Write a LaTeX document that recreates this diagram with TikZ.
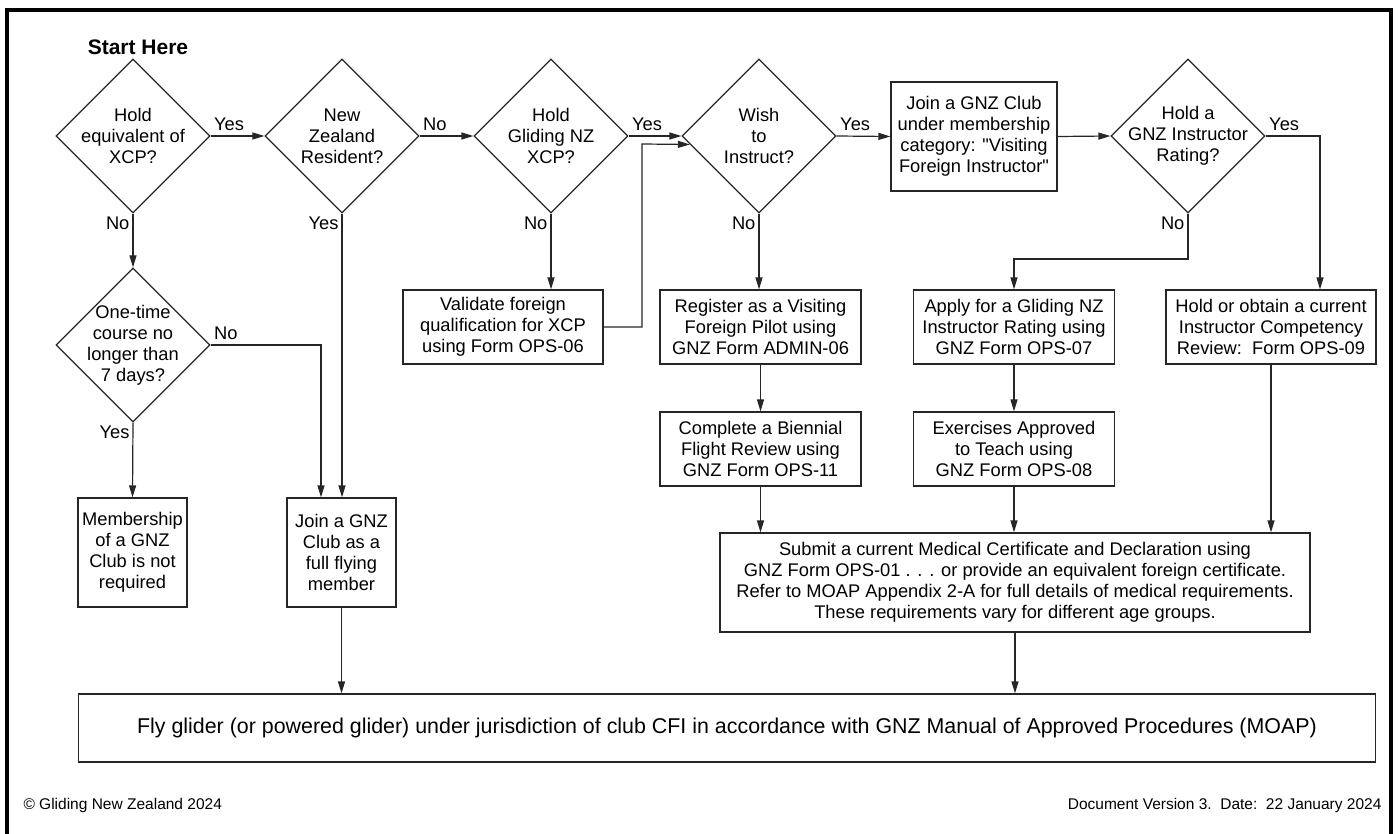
\documentclass[tikz,border=0pt]{standalone}
\usepackage{fontspec}
\setmainfont{Liberation Sans}
\usetikzlibrary{arrows.meta,shapes.geometric,positioning}

\begin{document}
\begin{tikzpicture}[x=1pt, y=-1pt,
    every node/.style={font=\fontsize{18.3}{21}\selectfont},
    decision/.style={diamond, draw=black!85, line width=1.2pt, minimum width=154pt, minimum height=154pt, inner sep=-8pt, align=center},
    stepbox/.style={rectangle, draw=black!85, line width=1.2pt, inner sep=0pt, align=center},
    flow/.style={line width=1.2pt, draw=black!85, -{Triangle[length=12pt,width=7pt]}},
    answer/.style={inner sep=3pt},
    yesright/.style={answer, pos=0, anchor=south west, yshift=2pt},
    nobelow/.style={answer, pos=0, anchor=north east},
    frame/.style={line width=4pt, black},
  ]

    \useasboundingbox (0,0) rectangle (1398,834);

    %draw the frame
    \draw[frame] (7,840) -- (7,10) -- (1391,10) -- (1391,840);

    \node[font=\bfseries\fontsize{21}{24}\selectfont] (start) at (138,47) {Start Here};

    %the decisions
    \node[decision] (xcp) at (133,136) {Hold\\equivalent of\\XCP?};
    \node[decision] (resident) at (342,136) {New\\Zealand\\Resident?};
    \node[decision] (gnzxcp) at (551,136) {Hold\\Gliding NZ\\XCP?};
    \node[decision] (instruct) at (759,136) {Wish\\to\\Instruct?};
    \node[decision] (rating) at (1188,136) {Hold a\\GNZ Instructor\\Rating?};
    \node[decision] (course) at (133,345) {One-time\\course no\\longer than\\7 days?};

    %the steps
    \node[stepbox, minimum width=166pt, minimum height=109pt] (visiting) at (974,136.5)
        {Join a GNZ Club\\under membership\\category: \textquotedbl Visiting\\Foreign Instructor\textquotedbl};
    \node[stepbox, minimum width=109pt, minimum height=109pt] (notreq) at (132.5,552.5)
        {Membership\\of a GNZ\\Club is not\\required};
    \node[stepbox, minimum width=109pt, minimum height=109pt] (fullmember) at (341.5,552.5)
        {Join a GNZ\\Club as a\\full flying\\member};
    \node[stepbox, minimum width=200pt, minimum height=74pt] (validate) at (503,327)
        {Validate foreign\\qualification for XCP\\using Form OPS-06};
    \node[stepbox, minimum width=201pt, minimum height=74pt] (register) at (760.5,327)
        {Register as a Visiting\\Foreign Pilot using\\GNZ Form ADMIN-06};
    \node[stepbox, minimum width=201pt, minimum height=74pt] (apply) at (1014,327)
        {Apply for a Gliding NZ\\Instructor Rating using\\GNZ Form OPS-07};
    \node[stepbox, minimum width=210pt, minimum height=74pt] (icr) at (1271,327)
        {Hold or obtain a current\\Instructor Competency\\Review:\ \ Form OPS-09};
    \node[stepbox, minimum width=201pt, minimum height=74pt] (bfr) at (760.5,449)
        {Complete a Biennial\\Flight Review using\\GNZ Form OPS-11};
    \node[stepbox, minimum width=201pt, minimum height=74pt] (exercises) at (1014,449)
        {Exercises Approved\\to Teach using\\GNZ Form OPS-08};
    \node[stepbox, minimum width=590pt, minimum height=99pt] (medical) at (1015,582.5)
        {Submit a current Medical Certificate and Declaration using\\GNZ Form OPS-01 . . . or provide an equivalent foreign certificate.\\Refer to MOAP Appendix 2-A for full details of medical requirements.\\These requirements vary for different age groups.};
    \node[stepbox, minimum width=1297pt, minimum height=68pt, font=\fontsize{21.4}{24}\selectfont] (fly) at (727,728)
        {Fly glider (or powered glider) under jurisdiction of club CFI in accordance with GNZ Manual of Approved Procedures (MOAP)};

    %bends
    \coordinate (k2) at (321,345);
    \coordinate (k3) at (642,144);
    \coordinate (k5) at (1320,136);
    \coordinate (k6) at (1188,259);

    %top row
    \draw[flow] (xcp.east) -- node[yesright] {Yes} (resident.west);
    \draw[flow] (resident.east) -- node[yesright] {No} (gnzxcp.west);
    \draw[flow] (gnzxcp.east) -- node[yesright] {Yes} (instruct.west);
    \draw[flow] (instruct.east) -- node[yesright] {Yes} (visiting.west);
    \draw[flow] (visiting.east) -- (rating.west);
    \draw[flow] (rating.east) -- node[yesright] {Yes} (k5) -- (k5 |- icr.north);
    \draw[flow] (rating.south) -- node[nobelow] {No} (k6) -| (apply.north);

    %down from the decisions
    \draw[flow] (xcp.south) -- node[nobelow] {No} (course.north);
    \draw[flow] (resident.south) -- node[nobelow] {Yes} (resident.south |- fullmember.north);
    \draw[flow] (gnzxcp.south) -- node[nobelow] {No} (gnzxcp.south |- validate.north);
    \draw[flow] (instruct.south) -- node[nobelow] {No} (instruct.south |- register.north);
    \draw[flow] (course.south) -- node[nobelow] {Yes} (notreq.north);
    \draw[flow] (course.east) -- node[yesright] {No} (k2) -- (k2 |- fullmember.north);
    \draw[flow] (validate.east) -| (k3) -- (instruct.187);

    %down to the medical and to flying
    \draw[flow] (register) -- (bfr);
    \draw[flow] (apply) -- (exercises);
    \draw[flow] (bfr.south) -- (bfr.south |- medical.north);
    \draw[flow] (exercises.south) -- (exercises.south |- medical.north);
    \draw[flow] (icr.south) -- (icr.south |- medical.north);
    \draw[flow] (fullmember.south) -- (fullmember.south |- fly.north);
    \draw[flow] (medical.south) -- (medical.south |- fly.north);

    %footer
    \node[font=\fontsize{15.5}{18}\selectfont, anchor=west] (copyright) at (20,805) {© Gliding New Zealand 2024};
    \node[font=\fontsize{15.5}{18}\selectfont, anchor=east] (version) at (1385,805) {Document Version 3.\ \ Date:\ \ 22 January 2024};

\end{tikzpicture}
\end{document}
